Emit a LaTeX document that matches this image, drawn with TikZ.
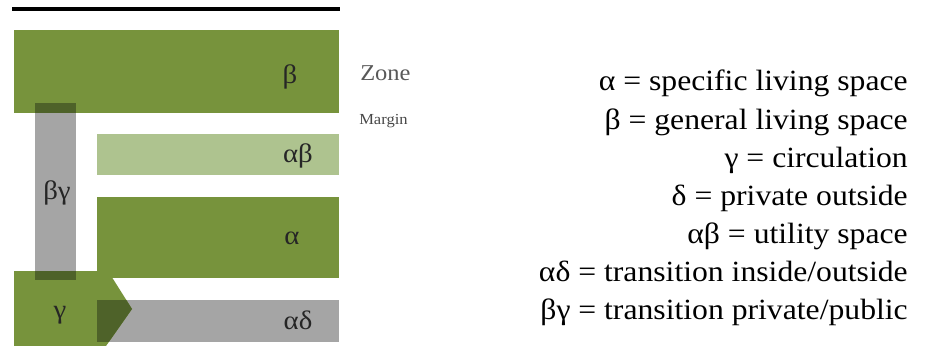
\documentclass[tikz,border=0pt]{standalone}
\usepackage{fontspec}
\setmainfont[FakeStretch=1.08]{Liberation Serif}
\begin{document}
\begin{tikzpicture}[x=0.75pt,y=-0.75pt,
  zone/.style={fill=zgreen,draw=none},
  lightzone/.style={fill=zlight,draw=none},
  margin/.style={fill=zgray,draw=none},
  overlap/.style={fill=zdark,draw=none},
  lab/.style={font=\fontsize{20}{24}\selectfont,text=black!85,inner sep=0pt},
  leg/.style={font=\fontsize{22}{26}\selectfont,text=black,inner sep=0pt,anchor=base east}]
\definecolor{zgreen}{HTML}{77933C}
\definecolor{zlight}{HTML}{AEC38F}
\definecolor{zgray}{HTML}{A5A5A5}
\definecolor{zdark}{HTML}{4E6229}
\useasboundingbox (0,0) rectangle (928,346);
% top black line
\coordinate (t1) at (12,9);
\coordinate (t2) at (340,9);
\draw[line width=3.6pt] (t1) -- (t2);
% zones
\fill[zone] (14,30) rectangle (339,113);
\fill[margin] (35,103) rectangle (76,280);
\fill[lightzone] (97,134) rectangle (339,175);
\fill[zone] (97,197) rectangle (339,278);
\fill[margin] (97,300) rectangle (339,342);
\fill[zone] (14,271) -- (108,271) -- (132,309) -- (106,346) -- (14,346) -- cycle;
% overlaps
\fill[overlap] (35,103) rectangle (76,113);
\fill[overlap] (35,271) rectangle (76,280);
\begin{scope}
\clip (14,271) -- (108,271) -- (132,309) -- (106,346) -- (14,346) -- cycle;
\fill[overlap] (97,300) rectangle (339,342);
\end{scope}
% zone labels
\node[lab] (b) at (290,77) {β};
\node[lab] (ab) at (298,156) {αβ};
\node[lab] (a) at (292,238) {α};
\node[lab] (bg) at (57,193) {βγ};
\node[lab] (g) at (60,315) {γ};
\node[lab] (ad) at (298,320) {αδ};
% zone / margin
\node[font=\fontsize{17}{20}\selectfont,text=black!65,anchor=west,inner sep=0pt] (zonet) at (360,73) {Zone};
\node[font=\fontsize{11.5}{14}\selectfont,text=black!72,anchor=west,inner sep=0pt] (margint) at (359,121) {Margin};
% legend
\node[leg] (l1) at (908,91) {α = specific living space};
\node[leg] (l2) at (908,129) {β = general living space};
\node[leg] (l3) at (908,167) {γ = circulation};
\node[leg] (l4) at (908,205) {δ = private outside};
\node[leg] (l5) at (908,243) {αβ = utility space};
\node[leg] (l6) at (908,281) {αδ = transition inside/outside};
\node[leg] (l7) at (908,319) {βγ = transition private/public};
\end{tikzpicture}
\end{document}
